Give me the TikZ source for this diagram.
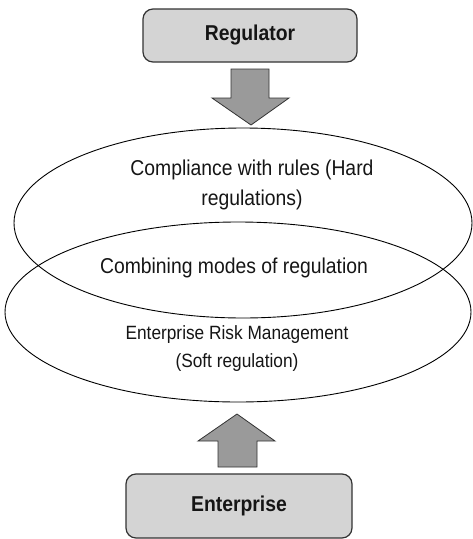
\documentclass[tikz,border=0pt]{standalone}
\usepackage{fontspec}
\setmainfont[FakeStretch=0.9]{Liberation Sans}
\definecolor{boxgray}{HTML}{D4D4D4}
\definecolor{arrowgray}{HTML}{9A9A9A}
\definecolor{edge}{HTML}{333333}
\definecolor{txt}{HTML}{151515}
\tikzset{
  actor/.style={draw=edge, line width=1.2pt, fill=boxgray, rounded corners=10pt},
  bigarrow/.style={draw=edge, line width=0.8pt, fill=arrowgray},
  oval/.style={draw=black, line width=0.9pt},
  lbl/.style={text=txt, align=center, inner sep=0pt},
}
\begin{document}
\begin{tikzpicture}[x=1pt,y=-1pt]
\useasboundingbox (0,0) rectangle (472,539);
% ellipses
\draw[oval] (243,223) ellipse [x radius=229, y radius=95];
\draw[oval] (238,312) ellipse [x radius=233, y radius=90];
% boxes
\draw[actor] (143,9) rectangle (357,62);
\node[lbl, font=\fontsize{21.5}{24}\selectfont\bfseries] (reg) at (250,35) {Regulator};
\draw[actor] (126,474) rectangle (352,538);
\node[lbl, font=\fontsize{21.5}{24}\selectfont\bfseries] (ent) at (239,506) {Enterprise};
% arrows
\draw[bigarrow] (231,69) -- (269,69) -- (269,98) -- (289,98) -- (251,125) -- (212,98) -- (231,98) -- cycle;
\draw[bigarrow] (218,467) -- (257,467) -- (257,441) -- (275,441) -- (237,414) -- (198,441) -- (218,441) -- cycle;
% texts
\node[lbl, font=\fontsize{21.5}{30}\selectfont] (hard) at (252,185) {Compliance with rules (Hard\\regulations)};
\node[lbl, font=\fontsize{21.5}{24}\selectfont] (comb) at (234,268) {Combining modes of regulation};
\node[lbl, font=\fontsize{19.2}{28}\selectfont] (soft) at (237,349) {Enterprise Risk Management\\(Soft regulation)};
\end{tikzpicture}
\end{document}
